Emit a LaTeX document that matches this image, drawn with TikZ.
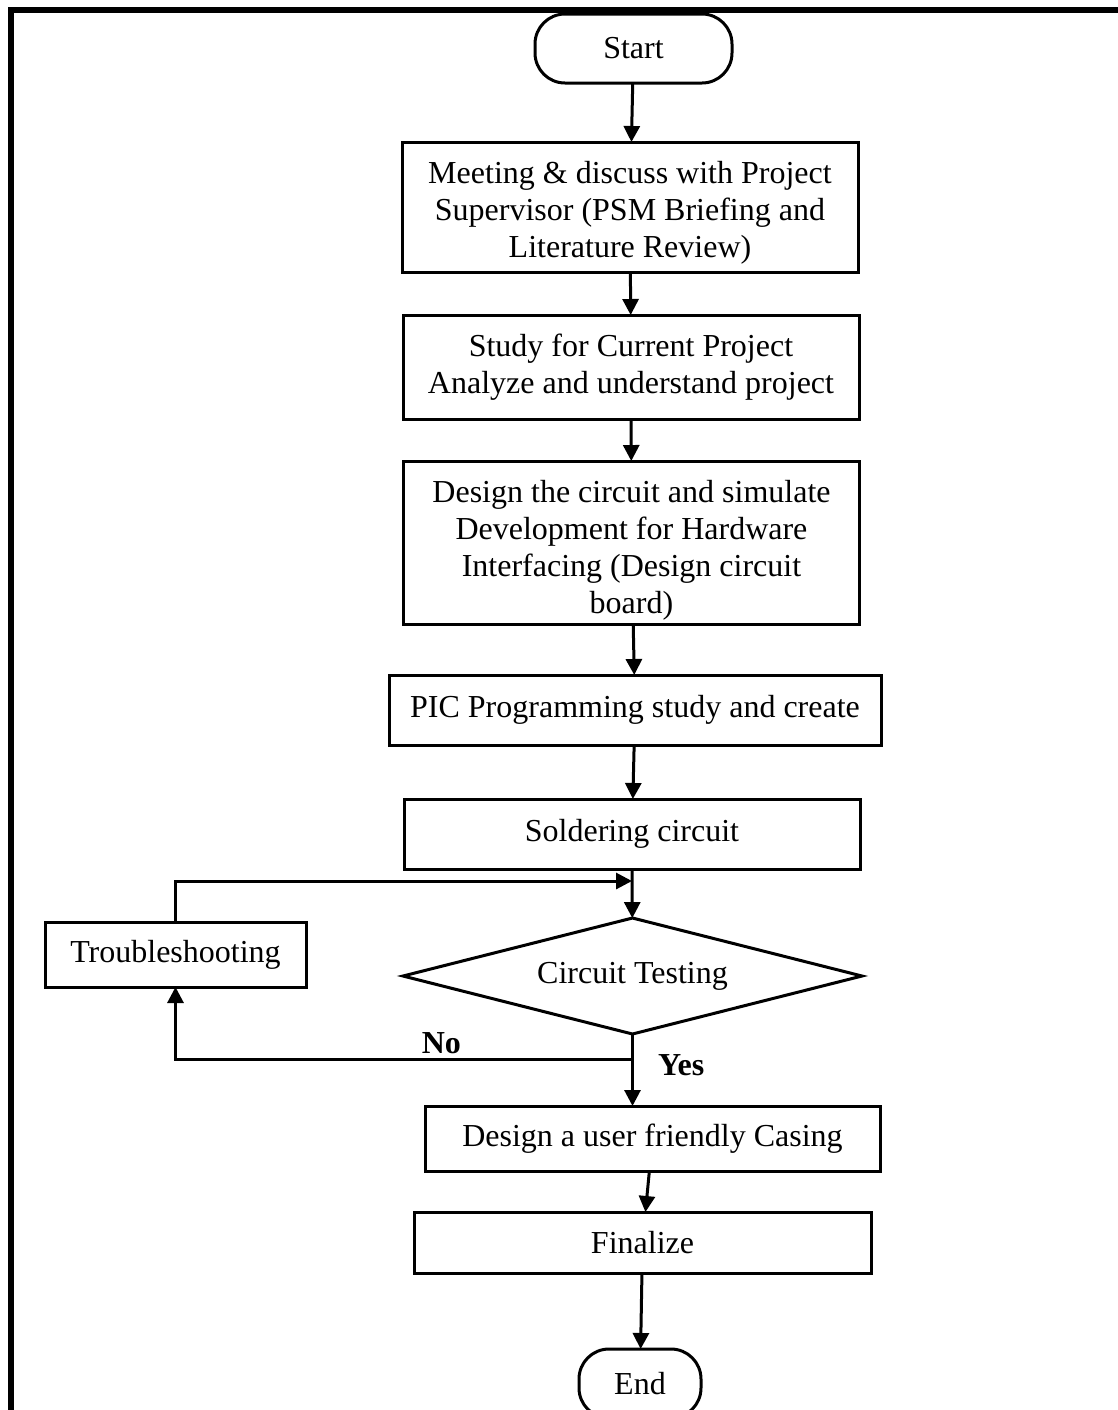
\documentclass[tikz,border=0pt]{standalone}
\usepackage{fontspec}
\setmainfont{Liberation Serif}
\usepackage{tikz}
\usetikzlibrary{positioning}
\usetikzlibrary{shapes.geometric}
\usetikzlibrary{arrows.meta}

\begin{document}
\begin{tikzpicture}[x=0.5pt, y=-0.5pt, line width=1.5pt, >={Triangle[length=8pt,width=8pt]},
	every node/.style={font=\fontsize{16pt}{18.5pt}\selectfont},
	box/.style={draw, rectangle, align=center, outer sep=0pt, minimum width=228pt},
	term/.style={draw, rectangle, rounded corners=15pt, outer sep=0pt, minimum width=98.5pt, minimum height=34.5pt},
	decision/.style={draw, diamond, aspect=4, inner sep=0pt, outer sep=0pt, minimum width=229.5pt, minimum height=58pt},
	lbl/.style={inner sep=0pt, font=\bfseries\fontsize{16pt}{18.5pt}\selectfont}]
	\useasboundingbox (0,0) rectangle (1118,1410);
	\draw[line width=3pt] (10.5,1420) -- (10.5,10) -- (1120,10);

	\node [term] (start) at (633.5,48.5) {Start};
	\node [box, below=29.5pt of start, xshift=-1.75pt, minimum height=65pt, inner ysep=1pt] (meet) {\rule{0pt}{17pt}Meeting \& discuss with Project\\Supervisor (PSM Briefing and\\Literature Review)};
	\draw[->] (start) -- (meet);
	\node [box, below=21.5pt of meet, xshift=0.5pt, minimum height=52pt] (study) {Study for Current Project\\Analyze and understand project};
	\draw[->] (meet) -- (study);
	\node [box, below=21pt of study, xshift=0.25pt, minimum height=81.5pt, inner ysep=1pt] (design) {\rule{0pt}{19pt}Design the circuit and simulate\\Development for Hardware\\Interfacing (Design circuit\\board)};
	\draw[->] (study) -- (design);
	\node [box, below=25.5pt of design, xshift=1.75pt, minimum width=246pt, minimum height=35pt] (pic) {PIC Programming study and create};
	\draw[->] (design) -- (pic);
	\node [box, below=27pt of pic, xshift=-1.5pt, minimum height=35pt] (solder) {Soldering circuit};
	\draw[->] (pic) -- (solder);
	\node [decision, below=24.5pt of solder, xshift=0.25pt] (test) {Circuit Testing};
	\draw[->] (solder) -- (test);
	\node [box, left=48.5pt of test, yshift=10.75pt, minimum width=130.5pt, minimum height=32.5pt] (trouble) {Troubleshooting};
	\coordinate [below=6pt of solder.south] (join);
	\draw[->] (trouble.north) |- (join);

	\node [box, below=36pt of test, xshift=10pt, minimum width=227.5pt, minimum height=32.5pt] (casing) {Design a user friendly Casing};
	\draw[->] (test.south) -- (test.south |- casing.north);
	\coordinate [below=12.5pt of test.south] (split);
	\draw[->] (split) -| (trouble.south);
	\node [lbl, left=85pt of split, yshift=8pt] (no) {No};
	\node [lbl, right=12pt of split, yshift=-3pt] (yes) {Yes};

	\node [box, below=20.5pt of casing, xshift=-5pt, minimum width=228.5pt, minimum height=30.5pt] (final) {Finalize};
	\draw[->] (casing) -- (final);
	\node [term, below=38pt of final, xshift=-1.25pt, minimum width=61pt] (stop) {End};
	\draw[->] (final) -- (stop);
\end{tikzpicture}
\end{document}
